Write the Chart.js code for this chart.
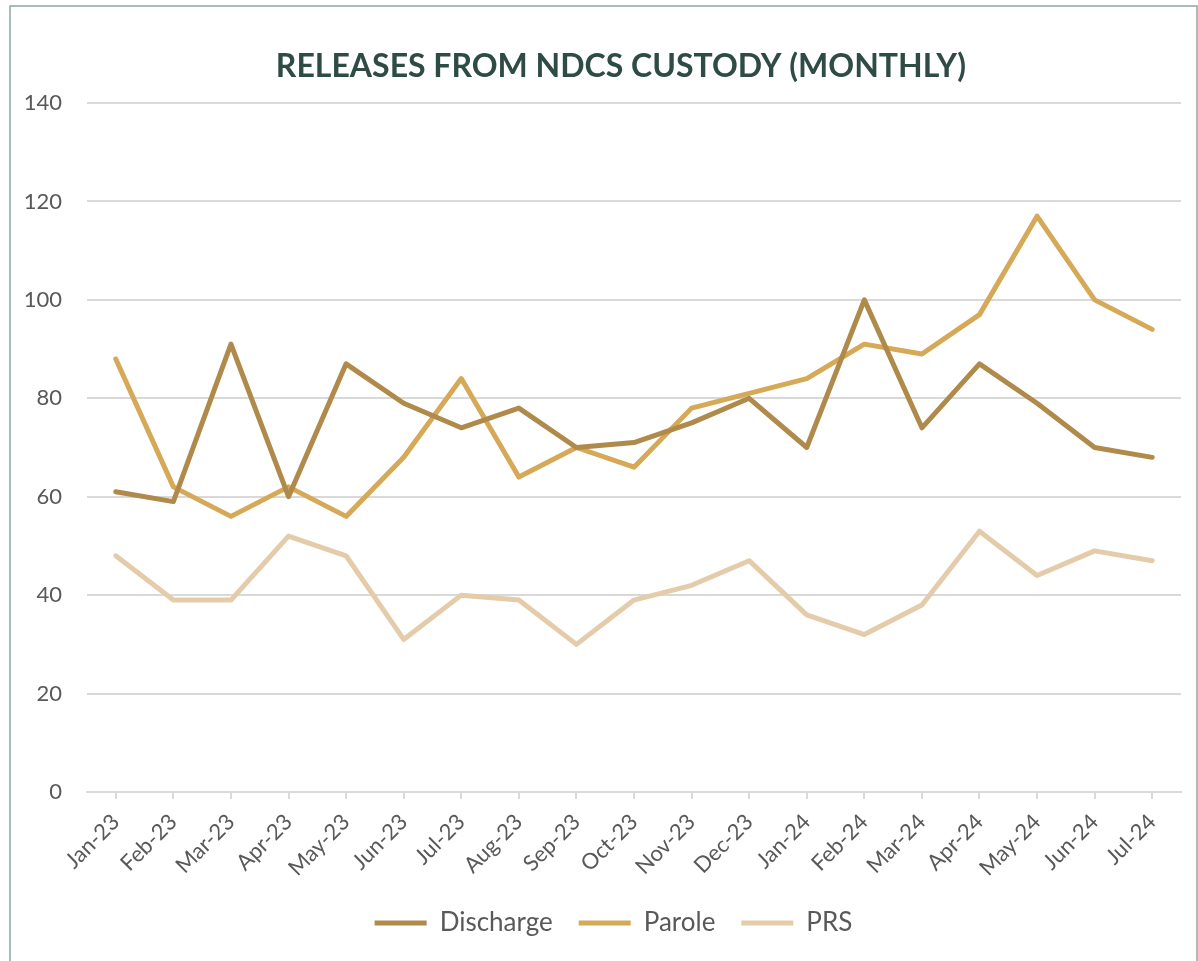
<!DOCTYPE html>
<html>
<head>
<meta charset="utf-8">
<script src="https://cdn.jsdelivr.net/npm/chart.js@4.4.1/dist/chart.umd.min.js"></script>
<style>
  html, body { margin: 0; padding: 0; background: #fff; }
  #wrap { position: relative; width: 1198px; height: 961px; }
</style>
</head>
<body>
<div id="wrap"><canvas id="releasesChart" width="1198" height="961"></canvas></div>
<script>
// data
const months = ['Jan-23', 'Feb-23', 'Mar-23', 'Apr-23', 'May-23', 'Jun-23', 'Jul-23',
  'Aug-23', 'Sep-23', 'Oct-23', 'Nov-23', 'Dec-23', 'Jan-24', 'Feb-24', 'Mar-24',
  'Apr-24', 'May-24', 'Jun-24', 'Jul-24']
const discharge = [61, 59, 91, 60, 87, 79, 74, 78, 70, 71, 75, 80, 70, 100, 74, 87, 79, 70, 68]
const parole    = [88, 62, 56, 62, 56, 68, 84, 64, 70, 66, 78, 81, 84, 91, 89, 97, 117, 100, 94]
const prs       = [48, 39, 39, 52, 48, 31, 40, 39, 30, 39, 42, 47, 36, 32, 38, 53, 44, 49, 47]
const seriesNames = ['Discharge', 'Parole', 'PRS']
const chartTitle = 'RELEASES FROM NDCS CUSTODY (MONTHLY)'

const colors = ['#AF8A4B', '#D5A957', '#E4CCAA']
const gridColor = '#D9D9D9'
const textColor = '#595959'

// frame + title drawn by hand
const frameAndTitle = {
  id: 'frameAndTitle',
  afterLayout(chart) {
    // legend sits a bit right of centre in the original
    if (chart.legend) {
      chart.legend.left += 18
      chart.legend.right += 18
    }
  },
  beforeDraw(chart) {
    const ctx = chart.ctx
    ctx.save()
    ctx.fillStyle = '#fff'
    ctx.fillRect(0, 0, chart.width, chart.height)
    ctx.strokeStyle = '#8FA5A5'
    ctx.lineWidth = 1.5
    ctx.strokeRect(10, 6, 1187, 980)
    ctx.restore()
  },
  afterDraw(chart) {
    const ctx = chart.ctx
    ctx.save()
    ctx.font = 'bold 32px Lato'
    ctx.fillStyle = '#2E4B45'
    ctx.textAlign = 'center'
    ctx.textBaseline = 'middle'
    ctx.fillText(chartTitle, 621, 67)
    ctx.restore()
  }
}

const makeSet = (label, data, color) => ({
  label: label,
  data: data,
  borderColor: color,
  backgroundColor: color,
  borderWidth: 5,
  borderCapStyle: 'round',
  borderJoinStyle: 'round',
  pointRadius: 0,
  pointHoverRadius: 0,
  tension: 0,
  pointStyle: 'line'
})

const ctx = document.getElementById('releasesChart').getContext('2d')
new Chart(ctx, {
  type: 'line',
  data: {
    labels: months,
    datasets: [
      makeSet(seriesNames[0], discharge, colors[0]),
      makeSet(seriesNames[1], parole, colors[1]),
      makeSet(seriesNames[2], prs, colors[2])
    ]
  },
  options: {
    responsive: false,
    animation: false,
    layout: {
      padding: { top: 103, left: 10, right: 17, bottom: 15 }
    },
    scales: {
      x: {
        offset: true,
        grid: {
          drawOnChartArea: false,
          drawTicks: true,
          tickLength: 7,
          color: gridColor,
          lineWidth: 2
        },
        border: { color: gridColor, width: 2 },
        ticks: {
          color: textColor,
          font: { family: 'Lato', size: 22 },
          minRotation: 45,
          maxRotation: 45,
          autoSkip: false,
          padding: 10
        },
        afterFit(scale) { scale.height = 92 }
      },
      y: {
        min: 0,
        max: 140,
        grid: { color: gridColor, lineWidth: 2, drawTicks: false },
        border: { display: false },
        ticks: {
          stepSize: 20,
          color: textColor,
          font: { family: 'Lato', size: 22 },
          padding: 25
        },
        afterFit(scale) { scale.width = 77 }
      }
    },
    plugins: {
      title: { display: false },
      tooltip: { enabled: false },
      legend: {
        position: 'bottom',
        labels: {
          usePointStyle: true,
          pointStyleWidth: 52,
          color: textColor,
          font: { family: 'Lato', size: 26 },
          padding: 26
        }
      }
    }
  },
  plugins: [frameAndTitle]
})
</script>
</body>
</html>
